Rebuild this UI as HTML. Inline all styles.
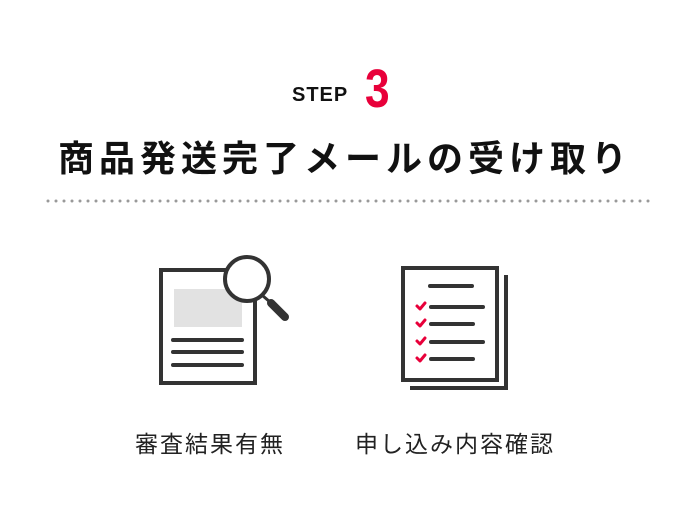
<!DOCTYPE html>
<html><head><meta charset="utf-8"><style>
body{margin:0;width:690px;height:506px;background:#fff;overflow:hidden;position:relative;font-family:"Liberation Sans","Noto Sans CJK JP",sans-serif;color:#111}
.a{position:absolute;white-space:nowrap}
</style></head><body>
<div class="a" style="left:292px;top:84px;font-size:20px;font-weight:bold;letter-spacing:1px">STEP</div>
<div class="a" style="left:365px;top:58px;font-size:54px;font-weight:bold;color:#e8003a;transform:scaleX(0.82);transform-origin:left">3</div>
<div class="a" style="left:40px;top:130px;width:610px;text-align:center;font-size:36px;font-weight:bold;letter-spacing:5px">商品発送完了メールの受け取り</div>
<svg class="a" style="left:0;top:0" width="690" height="506">
<line x1="48" y1="201" x2="655" y2="201" stroke="#999" stroke-width="3" stroke-linecap="round" stroke-dasharray="0 8"/>
<g stroke="#333" stroke-width="4" fill="none" stroke-linecap="round">
<rect x="161" y="270" width="94" height="113" stroke-linecap="butt"/>
<rect x="174" y="289" width="68" height="38" fill="#e2e2e2" stroke="none"/>
<line x1="173" y1="340" x2="242" y2="340"/><line x1="173" y1="352" x2="242" y2="352"/><line x1="173" y1="365" x2="242" y2="365"/>
<circle cx="247" cy="279" r="22" fill="#fff"/>
<line x1="263" y1="296" x2="270" y2="302" stroke-width="3"/>
<line x1="271" y1="303" x2="285" y2="317" stroke-width="8"/>
<rect x="403" y="268" width="94" height="112" stroke-linecap="butt"/>
<polyline points="506,275 506,388 410,388" stroke-linecap="butt"/>
<line x1="430" y1="286" x2="472" y2="286"/>
<line x1="431" y1="307" x2="483" y2="307"/><line x1="431" y1="324" x2="473" y2="324"/><line x1="431" y1="342" x2="483" y2="342"/><line x1="431" y1="359" x2="473" y2="359"/>
</g>
<g stroke="#e8003a" stroke-width="3" fill="none" stroke-linecap="round" stroke-linejoin="round">
<polyline points="417,306 420,309 425,303"/><polyline points="417,323 420,326 425,320"/><polyline points="417,341 420,344 425,338"/><polyline points="417,358 420,361 425,355"/>
</g>
</svg>
<div class="a" style="left:100px;top:425px;width:220px;text-align:center;font-size:23px;letter-spacing:2px;color:#222">審査結果有無</div>
<div class="a" style="left:335px;top:425px;width:240px;text-align:center;font-size:23px;letter-spacing:2px;color:#222">申し込み内容確認</div>
</body></html>
